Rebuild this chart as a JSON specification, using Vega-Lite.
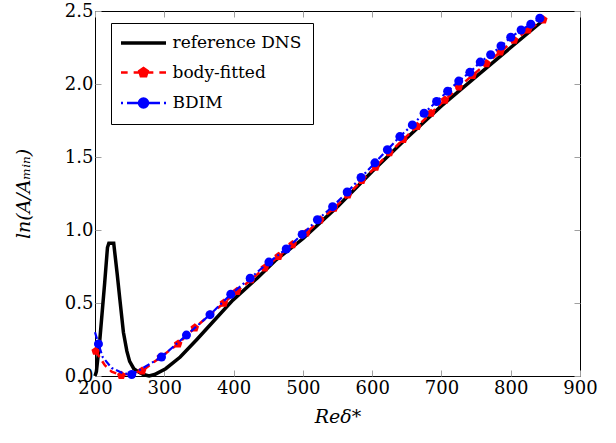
{
  "$schema": "https://vega.github.io/schema/vega-lite/v6.json",
  "width": 485,
  "height": 365,
  "autosize": {"type": "none"},
  "padding": {"left": 95, "top": 11, "right": 36, "bottom": 67},
  "background": "white",
  "config": {
    "font": "DejaVu Serif",
    "view": {"stroke": "black", "strokeWidth": 1},
    "axis": {
      "grid": false,
      "domain": false,
      "tickColor": "#a0a0a0",
      "tickSize": -6,
      "tickWidth": 1,
      "labelFlush": false,
      "labelFont": "DejaVu Serif",
      "labelFontSize": 18,
      "labelColor": "black",
      "titleFont": "DejaVu Serif",
      "titleFontSize": 19,
      "titleColor": "black",
      "titleFontWeight": "normal",
      "titleFontStyle": "italic",
      "labelPadding": 8
    }
  },
  "data": {
    "values": [
      {"series": "reference DNS", "x": 200, "y": 0, "m": 0},
      {"series": "reference DNS", "x": 202, "y": 0.03, "m": 0},
      {"series": "reference DNS", "x": 207, "y": 0.25, "m": 0},
      {"series": "reference DNS", "x": 214, "y": 0.64, "m": 0},
      {"series": "reference DNS", "x": 218, "y": 0.88, "m": 0},
      {"series": "reference DNS", "x": 220, "y": 0.91, "m": 0},
      {"series": "reference DNS", "x": 227, "y": 0.91, "m": 0},
      {"series": "reference DNS", "x": 232, "y": 0.7, "m": 0},
      {"series": "reference DNS", "x": 236, "y": 0.52, "m": 0},
      {"series": "reference DNS", "x": 241, "y": 0.3, "m": 0},
      {"series": "reference DNS", "x": 246, "y": 0.17, "m": 0},
      {"series": "reference DNS", "x": 250, "y": 0.1, "m": 0},
      {"series": "reference DNS", "x": 256, "y": 0.05, "m": 0},
      {"series": "reference DNS", "x": 262, "y": 0.03, "m": 0},
      {"series": "reference DNS", "x": 270, "y": 0.01, "m": 0},
      {"series": "reference DNS", "x": 278, "y": 0.0, "m": 0},
      {"series": "reference DNS", "x": 286, "y": 0.01, "m": 0},
      {"series": "reference DNS", "x": 302, "y": 0.05, "m": 0},
      {"series": "reference DNS", "x": 323, "y": 0.13, "m": 0},
      {"series": "reference DNS", "x": 347, "y": 0.25, "m": 0},
      {"series": "reference DNS", "x": 370, "y": 0.37, "m": 0},
      {"series": "reference DNS", "x": 399, "y": 0.52, "m": 0},
      {"series": "reference DNS", "x": 434, "y": 0.67, "m": 0},
      {"series": "reference DNS", "x": 460, "y": 0.79, "m": 0},
      {"series": "reference DNS", "x": 500, "y": 0.94, "m": 0},
      {"series": "reference DNS", "x": 550, "y": 1.16, "m": 0},
      {"series": "reference DNS", "x": 600, "y": 1.4, "m": 0},
      {"series": "reference DNS", "x": 650, "y": 1.63, "m": 0},
      {"series": "reference DNS", "x": 700, "y": 1.85, "m": 0},
      {"series": "reference DNS", "x": 750, "y": 2.05, "m": 0},
      {"series": "reference DNS", "x": 800, "y": 2.25, "m": 0},
      {"series": "reference DNS", "x": 848, "y": 2.44, "m": 0},

      {"series": "body-fitted", "x": 201, "y": 0.17, "m": 1},
      {"series": "body-fitted", "x": 214, "y": 0.075, "m": 0},
      {"series": "body-fitted", "x": 224, "y": 0.03, "m": 0},
      {"series": "body-fitted", "x": 238, "y": 0.005, "m": 1},
      {"series": "body-fitted", "x": 268, "y": 0.035, "m": 1},
      {"series": "body-fitted", "x": 295, "y": 0.13, "m": 1},
      {"series": "body-fitted", "x": 320, "y": 0.22, "m": 1},
      {"series": "body-fitted", "x": 344, "y": 0.33, "m": 1},
      {"series": "body-fitted", "x": 366, "y": 0.42, "m": 1},
      {"series": "body-fitted", "x": 386, "y": 0.5, "m": 1},
      {"series": "body-fitted", "x": 405, "y": 0.58, "m": 1},
      {"series": "body-fitted", "x": 425, "y": 0.66, "m": 1},
      {"series": "body-fitted", "x": 445, "y": 0.74, "m": 1},
      {"series": "body-fitted", "x": 465, "y": 0.82, "m": 1},
      {"series": "body-fitted", "x": 485, "y": 0.9, "m": 1},
      {"series": "body-fitted", "x": 505, "y": 0.98, "m": 1},
      {"series": "body-fitted", "x": 525, "y": 1.07, "m": 1},
      {"series": "body-fitted", "x": 545, "y": 1.15, "m": 1},
      {"series": "body-fitted", "x": 565, "y": 1.24, "m": 1},
      {"series": "body-fitted", "x": 585, "y": 1.34, "m": 1},
      {"series": "body-fitted", "x": 605, "y": 1.43, "m": 1},
      {"series": "body-fitted", "x": 625, "y": 1.53, "m": 1},
      {"series": "body-fitted", "x": 645, "y": 1.62, "m": 1},
      {"series": "body-fitted", "x": 665, "y": 1.71, "m": 1},
      {"series": "body-fitted", "x": 685, "y": 1.8, "m": 1},
      {"series": "body-fitted", "x": 705, "y": 1.89, "m": 1},
      {"series": "body-fitted", "x": 725, "y": 1.98, "m": 1},
      {"series": "body-fitted", "x": 745, "y": 2.06, "m": 1},
      {"series": "body-fitted", "x": 765, "y": 2.14, "m": 1},
      {"series": "body-fitted", "x": 785, "y": 2.22, "m": 1},
      {"series": "body-fitted", "x": 805, "y": 2.3, "m": 1},
      {"series": "body-fitted", "x": 825, "y": 2.37, "m": 1},
      {"series": "body-fitted", "x": 847, "y": 2.44, "m": 1},

      {"series": "BDIM", "x": 200, "y": 0.3, "m": 0},
      {"series": "BDIM", "x": 205, "y": 0.22, "m": 1},
      {"series": "BDIM", "x": 211, "y": 0.13, "m": 0},
      {"series": "BDIM", "x": 224, "y": 0.055, "m": 0},
      {"series": "BDIM", "x": 240, "y": 0.02, "m": 0},
      {"series": "BDIM", "x": 253, "y": 0.01, "m": 1},
      {"series": "BDIM", "x": 296, "y": 0.13, "m": 1},
      {"series": "BDIM", "x": 332, "y": 0.28, "m": 1},
      {"series": "BDIM", "x": 366, "y": 0.42, "m": 1},
      {"series": "BDIM", "x": 396, "y": 0.56, "m": 1},
      {"series": "BDIM", "x": 424, "y": 0.67, "m": 1},
      {"series": "BDIM", "x": 451, "y": 0.78, "m": 1},
      {"series": "BDIM", "x": 476, "y": 0.87, "m": 1},
      {"series": "BDIM", "x": 499, "y": 0.97, "m": 1},
      {"series": "BDIM", "x": 521, "y": 1.07, "m": 1},
      {"series": "BDIM", "x": 543, "y": 1.16, "m": 1},
      {"series": "BDIM", "x": 564, "y": 1.26, "m": 1},
      {"series": "BDIM", "x": 584, "y": 1.36, "m": 1},
      {"series": "BDIM", "x": 604, "y": 1.46, "m": 1},
      {"series": "BDIM", "x": 622, "y": 1.55, "m": 1},
      {"series": "BDIM", "x": 640, "y": 1.64, "m": 1},
      {"series": "BDIM", "x": 658, "y": 1.72, "m": 1},
      {"series": "BDIM", "x": 675, "y": 1.8, "m": 1},
      {"series": "BDIM", "x": 693, "y": 1.88, "m": 1},
      {"series": "BDIM", "x": 709, "y": 1.95, "m": 1},
      {"series": "BDIM", "x": 725, "y": 2.02, "m": 1},
      {"series": "BDIM", "x": 741, "y": 2.08, "m": 1},
      {"series": "BDIM", "x": 756, "y": 2.15, "m": 1},
      {"series": "BDIM", "x": 771, "y": 2.2, "m": 1},
      {"series": "BDIM", "x": 786, "y": 2.26, "m": 1},
      {"series": "BDIM", "x": 800, "y": 2.32, "m": 1},
      {"series": "BDIM", "x": 815, "y": 2.37, "m": 1},
      {"series": "BDIM", "x": 829, "y": 2.41, "m": 1},
      {"series": "BDIM", "x": 842, "y": 2.45, "m": 1}
    ]
  },
  "layer": [
    {
      "transform": [{"filter": "datum.series === 'reference DNS'"}],
      "mark": {"type": "line", "strokeWidth": 3.5},
      "encoding": {
        "x": {"field": "x", "type": "quantitative",
              "scale": {"domain": [200, 900], "nice": false, "zero": false},
              "axis": {"orient": "bottom", "values": [200, 300, 400, 500, 600, 700, 800, 900], "title": "Reδ*", "titlePadding": 10, "labelPadding": 9}},
        "y": {"field": "y", "type": "quantitative",
              "scale": {"domain": [0, 2.5], "nice": false, "zero": false},
              "axis": {"orient": "left", "values": [0, 0.5, 1, 1.5, 2, 2.5], "format": ".1f", "title": "ln(A/Aₘᵢₙ)", "titlePadding": 31}},
        "color": {"field": "series", "type": "nominal",
                  "scale": {"domain": ["reference DNS", "body-fitted", "BDIM"], "range": ["black", "red", "blue"]},
                  "legend": {
                    "title": null,
                    "orient": "none",
                    "legendX": 16,
                    "legendY": 12,
                    "padding": 11.5,
                    "strokeColor": "black",
                    "fillColor": "white",
                    "rowPadding": 11.5,
                    "symbolSize": 100,
                    "labelOffset": 33,
                    "labelFont": "DejaVu Serif",
                    "labelFontSize": 17,
                    "labelColor": "black",
                    "labelLimit": 300,
                    "encode": {
                      "symbols": {
                        "update": {
                          "shape": {"signal": "datum.value === 'reference DNS' ? 'M-2,0H7' : datum.value === 'body-fitted' ? 'M-2,0H-0.67M0.53,0H1.6M3.4,0H4.47M5.67,0H7M2.5,-0.9L3.36,-0.28L3.03,0.73L1.97,0.73L1.64,-0.28Z' : 'M-2,0H-1.6M-0.8,0H1.4M3.6,0H5.8M6.6,0H7M3.4,0A0.9,0.9 0 1 1 1.6,0A0.9,0.9 0 1 1 3.4,0Z'"},
                          "stroke": {"signal": "datum.value === 'reference DNS' ? 'black' : datum.value === 'body-fitted' ? 'red' : 'blue'"},
                          "fill": {"signal": "datum.value === 'reference DNS' ? 'black' : datum.value === 'body-fitted' ? 'red' : 'blue'"},
                          "strokeWidth": {"signal": "datum.value === 'reference DNS' ? 3.5 : 2.5"},
                          "strokeDash": {"value": []},
                          "opacity": {"value": 1},
                          "fillOpacity": {"value": 1},
                          "strokeOpacity": {"value": 1},
                          "size": {"value": 100}
                        }
                      }
                    }
                  }}
      }
    },
    {
      "transform": [{"filter": "datum.series === 'body-fitted'"}],
      "mark": {"type": "line", "strokeWidth": 2.5, "strokeDash": [7, 5]},
      "encoding": {
        "x": {"field": "x", "type": "quantitative",
              "scale": {"domain": [200, 900], "nice": false, "zero": false},
              "axis": {"orient": "top", "values": [200, 300, 400, 500, 600, 700, 800, 900], "labels": false, "title": null}},
        "y": {"field": "y", "type": "quantitative",
              "scale": {"domain": [0, 2.5], "nice": false, "zero": false},
              "axis": {"orient": "right", "values": [0, 0.5, 1, 1.5, 2, 2.5], "labels": false, "title": null}},
        "color": {"field": "series", "type": "nominal", "legend": null}
      }
    },
    {
      "transform": [{"filter": "datum.series === 'body-fitted' && datum.m === 1"}],
      "mark": {"type": "point", "filled": true, "opacity": 1, "size": 81, "shape": "M0,-1L0.951,-0.309L0.588,0.809L-0.588,0.809L-0.951,-0.309Z"},
      "encoding": {
        "x": {"field": "x", "type": "quantitative", "scale": {"domain": [200, 900], "nice": false, "zero": false}, "axis": null},
        "y": {"field": "y", "type": "quantitative", "scale": {"domain": [0, 2.5], "nice": false, "zero": false}, "axis": null},
        "color": {"field": "series", "type": "nominal", "legend": null}
      }
    },
    {
      "transform": [{"filter": "datum.series === 'BDIM'"}],
      "mark": {"type": "line", "strokeWidth": 2.2, "strokeDash": [7, 3, 2, 3]},
      "encoding": {
        "x": {"field": "x", "type": "quantitative", "scale": {"domain": [200, 900], "nice": false, "zero": false}, "axis": null},
        "y": {"field": "y", "type": "quantitative", "scale": {"domain": [0, 2.5], "nice": false, "zero": false}, "axis": null},
        "color": {"field": "series", "type": "nominal", "legend": null}
      }
    },
    {
      "transform": [{"filter": "datum.series === 'BDIM' && datum.m === 1"}],
      "mark": {"type": "point", "filled": true, "opacity": 1, "size": 81, "shape": "circle"},
      "encoding": {
        "x": {"field": "x", "type": "quantitative", "scale": {"domain": [200, 900], "nice": false, "zero": false}, "axis": null},
        "y": {"field": "y", "type": "quantitative", "scale": {"domain": [0, 2.5], "nice": false, "zero": false}, "axis": null},
        "color": {"field": "series", "type": "nominal", "legend": null}
      }
    }
  ]
}
